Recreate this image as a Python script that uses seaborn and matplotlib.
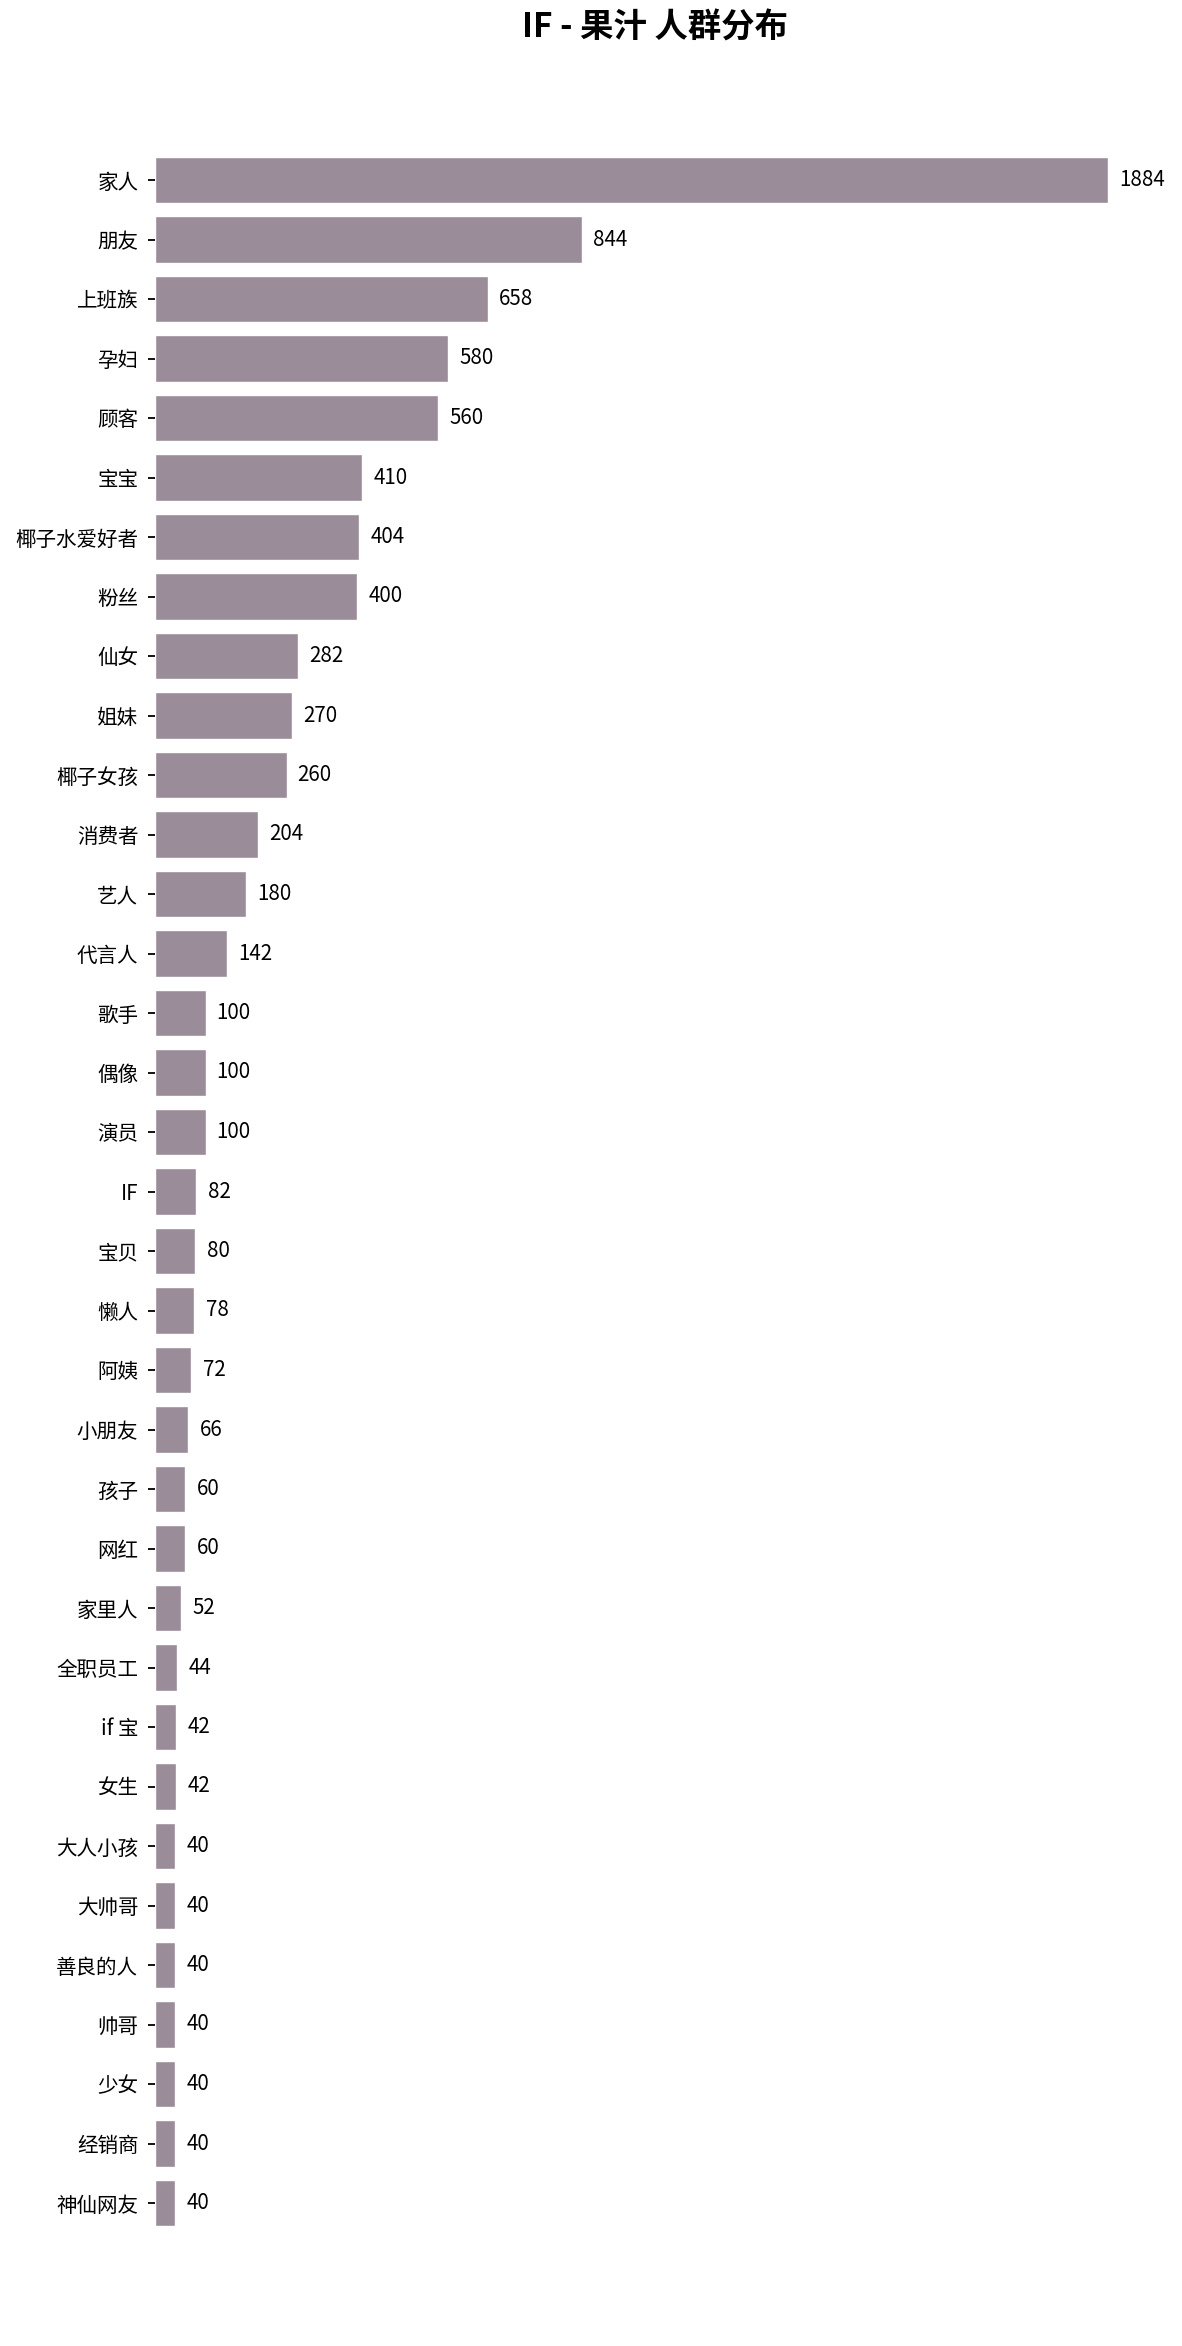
import matplotlib
matplotlib.use("Agg")
import matplotlib.pyplot as plt
import seaborn as sns
import pandas as pd

categories = ["家人", "朋友", "上班族", "孕妇", "顾客", "宝宝", "椰子水爱好者", "粉丝", "仙女", "姐妹",
              "椰子女孩", "消费者", "艺人", "代言人", "歌手", "偶像", "演员", "IF", "宝贝", "懒人",
              "阿姨", "小朋友", "孩子", "网红", "家里人", "全职员工", "if 宝", "女生", "大人小孩", "大帅哥",
              "善良的人", "帅哥", "少女", "经销商", "神仙网友"]
counts = [1884, 844, 658, 580, 560, 410, 404, 400, 282, 270,
          260, 204, 180, 142, 100, 100, 100, 82, 80, 78,
          72, 66, 60, 60, 52, 44, 42, 42, 40, 40,
          40, 40, 40, 40, 40]
title = "IF - 果汁 人群分布"

sns.set_theme(style="white")
plt.rcParams['font.family'] = ['Noto Sans CJK SC', 'DejaVu Sans']

df = pd.DataFrame({"人群": categories, "数量": counts})

fig = plt.figure(figsize=(11.82, 23.46), dpi=100)
ax = fig.add_axes([155 / 1182, 1 - 2232.75 / 2346, 1001 / 1182, 2082.5 / 2346])

sns.barplot(data=df, y="人群", x="数量", orient="h", color="#9b8c9a",
            saturation=1, width=0.785, ax=ax)

for c in ax.containers:
    ax.bar_label(c, labels=[str(v) for v in counts], padding=8, fontsize=14.8, color="black")

ax.set_title(title, fontsize=24, fontweight="bold", color="black", pad=0,
             y=1 + (150.25 - 28) / 2082.5, va="center")
ax.set_xlabel("")
ax.set_ylabel("")
ax.set_xticks([])
ax.tick_params(axis="y", labelsize=14.8, length=5, width=1.3, pad=7, colors="black", left=True)
for s in ax.spines.values():
    s.set_visible(False)

fig.savefig("out.png", dpi=100)
